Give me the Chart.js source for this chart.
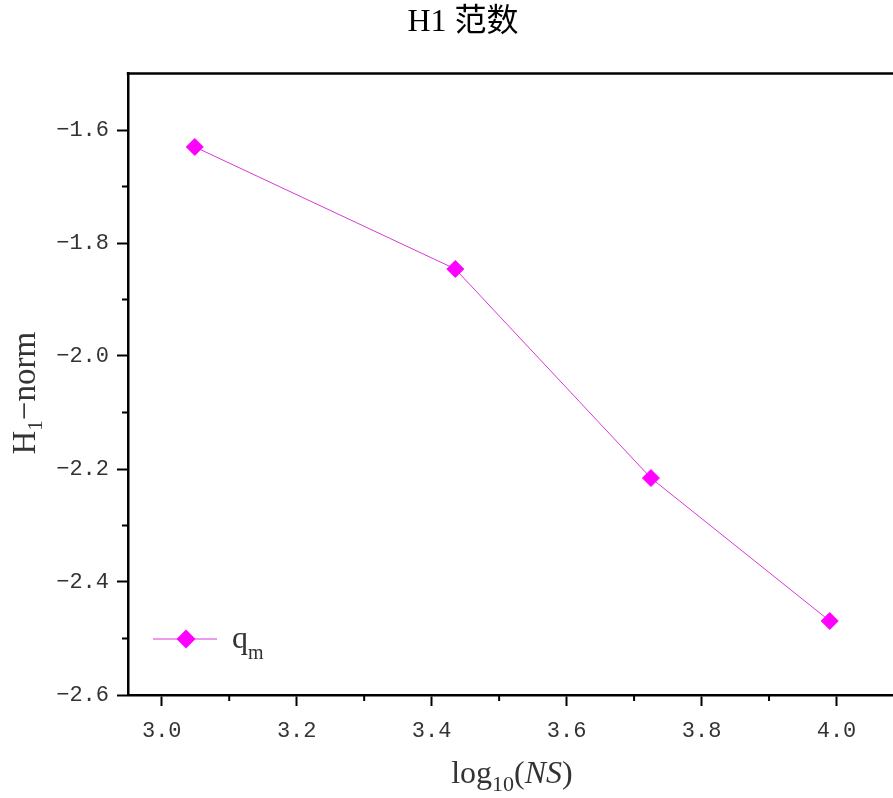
<!DOCTYPE html>
<html>
<head>
<meta charset="utf-8">
<script src="https://cdn.jsdelivr.net/npm/chart.js@4/dist/chart.umd.min.js"></script>
<style>
  html, body { margin: 0; padding: 0; background: #fff; overflow: hidden; }
</style>
</head>
<body>
<canvas id="chart" width="926" height="798"></canvas>
<script>
// ---- data ----
const chartTitle = 'H1 范数';
const seriesName = 'q_m';                       // "_" = subscript
const xValues = [3.049, 3.435, 3.725, 3.990];   // log10(NS)
const yValues = [-1.630, -1.846, -2.216, -2.469];
const xTicks = [3.0, 3.1, 3.2, 3.3, 3.4, 3.5, 3.6, 3.7, 3.8, 3.9, 4.0];
const yTicks = [-2.6, -2.5, -2.4, -2.3, -2.2, -2.1, -2.0, -1.9, -1.8, -1.7, -1.6];
const xTitle = [['log'], ['10', 'sub'], ['('], ['NS', 'it'], [')']];
const yTitle = [['H'], ['1', 'sub'], ['\u2212norm']];

const SERIF = '"Liberation Serif", "Noto Sans CJK SC", serif';
const MONO  = '"Liberation Mono", monospace';
const LINE  = '#d838d8';
const MARK  = '#ff00ff';

const isMajor = (v) => Math.round(v * 10) % 2 === 0;

// draw text made of parts (normal / subscript / italic), y = baseline
function drawRich(ctx, parts, x, y, size, subSize, subDrop, align) {
    const font = (p) => (p[1] === 'it' ? 'italic ' : '') + (p[1] === 'sub' ? subSize : size) + 'px ' + SERIF;
    let w = 0;
    parts.forEach(p => { ctx.font = font(p); w += ctx.measureText(p[0]).width; });
    let cx = align === 'left' ? x : x - w / 2;
    ctx.textAlign = 'left';
    ctx.textBaseline = 'alphabetic';
    parts.forEach(p => {
        ctx.font = font(p);
        ctx.fillText(p[0], cx, y + (p[1] === 'sub' ? subDrop : 0));
        cx += ctx.measureText(p[0]).width;
    });
}

const extras = {
    id: 'extras',
    afterDraw(chart) {
        const { ctx, chartArea: a, scales } = chart;
        ctx.save();

        // top frame line (right side is cut off in the figure)
        ctx.strokeStyle = '#000';
        ctx.lineWidth = 2.5;
        ctx.beginPath();
        ctx.moveTo(a.left - 1.25, a.top);
        ctx.lineTo(chart.width, a.top);
        ctx.stroke();

        // minor ticks
        ctx.lineWidth = 2;
        ctx.beginPath();
        xTicks.filter(v => !isMajor(v)).forEach(v => {
            const px = scales.x.getPixelForValue(v);
            ctx.moveTo(px, a.bottom);
            ctx.lineTo(px, a.bottom + 6);
        });
        yTicks.filter(v => !isMajor(v)).forEach(v => {
            const py = scales.y.getPixelForValue(v);
            ctx.moveTo(a.left, py);
            ctx.lineTo(a.left - 6, py);
        });
        ctx.stroke();

        // axis titles
        ctx.fillStyle = '#333';
        drawRich(ctx, xTitle, (a.left + a.right) / 2 - 4, 783, 32, 22, 8);
        ctx.save();
        ctx.translate(35, (a.top + a.bottom) / 2 + 9);
        ctx.rotate(-Math.PI / 2);
        drawRich(ctx, yTitle, 0, 0, 33, 21, 7);
        ctx.restore();

        // legend inside the plot, bottom-left
        const ds = chart.data.datasets[0];
        const ly = a.bottom - 56;
        const lx = a.left + 25;
        ctx.strokeStyle = ds.borderColor;
        ctx.lineWidth = ds.borderWidth;
        ctx.beginPath();
        ctx.moveTo(lx, ly);
        ctx.lineTo(lx + 64, ly);
        ctx.stroke();
        ctx.fillStyle = ds.pointBackgroundColor;
        ctx.beginPath();
        const r = ds.pointRadius + 1;
        ctx.moveTo(lx + 33 - r, ly);
        ctx.lineTo(lx + 33, ly - r);
        ctx.lineTo(lx + 33 + r, ly);
        ctx.lineTo(lx + 33, ly + r);
        ctx.closePath();
        ctx.fill();
        const lab = ds.label.split('_');
        ctx.fillStyle = '#333';
        drawRich(ctx, [[lab[0]], [lab[1] || '', 'sub']], lx + 79, ly + 9, 32, 20, 11, 'left');

        ctx.restore();
    }
};

const tickFont = { family: MONO, size: 22 };

new Chart(document.getElementById('chart'), {
    type: 'line',
    data: {
        datasets: [{
            label: seriesName,
            data: xValues.map((x, i) => ({ x, y: yValues[i] })),
            borderColor: LINE,
            borderWidth: 1,
            pointStyle: 'rectRot',
            pointRadius: 8.5,
            pointBackgroundColor: MARK,
            pointBorderColor: MARK,
            pointBorderWidth: 1,
            tension: 0
        }]
    },
    options: {
        responsive: false,
        animation: false,
        devicePixelRatio: 1,
        layout: { padding: { left: 22, right: 22, top: 0, bottom: 0 } },
        plugins: {
            legend: { display: false },
            tooltip: { enabled: false },
            title: {
                display: true,
                text: chartTitle,
                color: '#000',
                font: { family: SERIF, size: 32, weight: 'normal' },
                padding: { top: 3, bottom: 32.1 }
            }
        },
        scales: {
            x: {
                type: 'linear',
                min: 2.95,
                max: 4.1,
                afterBuildTicks: (s) => { s.ticks = xTicks.map(v => ({ value: v })); },
                afterFit: (s) => { s.height = 103; },
                border: { display: true, color: '#000', width: 2.5 },
                grid: {
                    drawOnChartArea: false,
                    tickLength: 11,
                    tickWidth: 2,
                    tickColor: (c) => (c.tick && isMajor(c.tick.value) ? '#000' : 'rgba(0,0,0,0)')
                },
                ticks: {
                    autoSkip: false,
                    maxRotation: 0,
                    padding: 12,
                    color: '#333',
                    font: tickFont,
                    callback: (v) => (isMajor(v) ? Number(v).toFixed(1) : '')
                }
            },
            y: {
                type: 'linear',
                min: -2.6,
                max: -1.5,
                afterBuildTicks: (s) => { s.ticks = yTicks.map(v => ({ value: v })); },
                afterFit: (s) => { s.width = 106; },
                border: { display: true, color: '#000', width: 2.5 },
                grid: {
                    drawOnChartArea: false,
                    tickLength: 11,
                    tickWidth: 2,
                    tickColor: (c) => (c.tick && isMajor(c.tick.value) ? '#000' : 'rgba(0,0,0,0)')
                },
                ticks: {
                    autoSkip: false,
                    padding: 8,
                    color: '#333',
                    font: tickFont,
                    callback: (v) => (isMajor(v) ? Number(v).toFixed(1).replace('-', '\u2212') : '')
                }
            }
        }
    },
    plugins: [extras]
});
</script>
</body>
</html>
